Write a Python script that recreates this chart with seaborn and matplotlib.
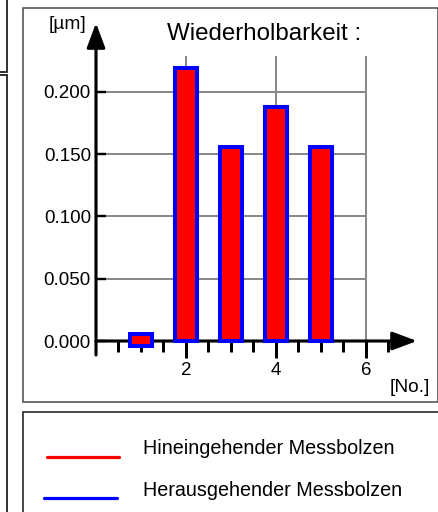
import matplotlib
matplotlib.use('Agg')
import matplotlib.pyplot as plt
import seaborn as sns
from matplotlib.patches import Rectangle
from matplotlib.lines import Line2D

# ---------------- data ----------------
measure_no = [1, 2, 3, 4, 5]
repeatability_um = [0.0015, 0.219, 0.156, 0.188, 0.156]
y_ticks = [0.000, 0.050, 0.100, 0.150, 0.200]
y_tick_labels = ['0.000', '0.050', '0.100', '0.150', '0.200']
x_major_ticks = [2, 4, 6]
x_tick_labels = ['2', '4', '6']
x_minor_ticks = [0.5, 1, 1.5, 2.5, 3, 3.5, 4.5, 5, 5.5, 6.5]
title = 'Wiederholbarkeit :'
y_unit = '[µm]'
x_unit = '[No.]'
legend_labels = ['Hineingehender Messbolzen', 'Herausgehender Messbolzen']
legend_colors = ['#ff0000', '#0000ff']

sns.set_style('white')
plt.rcParams['font.family'] = ['Liberation Sans', 'DejaVu Sans']

W, H = 439, 512
PT = 0.72  # points per pixel at dpi 100
fig = plt.figure(figsize=(W / 100, H / 100), dpi=100)
fig.patch.set_facecolor('white')


def fx(px):
    return px / W


def fy(py):
    return 1 - py / H


# pixel mapping of data space
X0, XS = 96.0, 45.0      # pixel of x=0, pixels per unit
Y0, YS = 341.0, 1245.0   # pixel of y=0, pixels per unit
AL, AR, AT, AB = 30, 436, 12, 398
ax = fig.add_axes([fx(AL), fy(AB), (AR - AL) / W, (AB - AT) / H])
ax.patch.set_visible(False)
ax.set_axisbelow('line')

# grid
ax.hlines(y_ticks[1:], 0, 6, colors='#8a8a8a', lw=2 * PT, zorder=1)
ax.vlines(x_major_ticks, 0, 0.229, colors='#8a8a8a', lw=2 * PT, zorder=1)

# bars
sns.barplot(x=measure_no, y=repeatability_um, native_scale=True, width=0.5,
            color='#ff0000', saturation=1, edgecolor='#0000ff',
            linewidth=2.9, errorbar=None, ax=ax, zorder=4)
min_h = 0.009
for p in ax.patches:
    if p.get_height() < min_h:
        c = p.get_y() + p.get_height() / 2
        p.set_y(c - min_h / 2)
        p.set_height(min_h)

# axes arrows
arrow = dict(arrowstyle='-|>,head_length=0.75,head_width=0.28',
             mutation_scale=20, lw=3.1 * PT, color='black',
             shrinkA=0, shrinkB=0)
ax.annotate('', xy=(0, (Y0 - 23) / YS), xytext=(0, (Y0 - 355) / YS),
            arrowprops=arrow, zorder=3)
ax.annotate('', xy=((417 - X0) / XS, 0), xytext=(0, 0),
            arrowprops=arrow, zorder=3)

for s in ax.spines.values():
    s.set_visible(False)
ax.spines['left'].set_position(('data', 0))
ax.spines['bottom'].set_position(('data', 0))

ax.set_xticks(x_major_ticks)
ax.set_xticklabels(x_tick_labels)
ax.set_xticks(x_minor_ticks, minor=True)
ax.set_yticks(y_ticks)
ax.set_yticklabels(y_tick_labels)
ax.tick_params(axis='x', which='major', bottom=True, direction='out',
               length=17 * PT, width=3 * PT, color='black', pad=4 * PT,
               labelsize=13.5, labelcolor='black')
ax.tick_params(axis='x', which='minor', bottom=True, direction='out',
               length=11 * PT, width=3 * PT, color='black')
ax.tick_params(axis='y', which='major', left=True, direction='in',
               length=10 * PT, width=2.4 * PT, color='black', pad=5 * PT,
               labelsize=13.5, labelcolor='black')
ax.set_xlabel('')
ax.set_ylabel('')
ax.set_xlim((AL - X0) / XS, (AR - X0) / XS)
ax.set_ylim((Y0 - AB) / YS, (Y0 - AT) / YS)

# texts
fig.text(fx(264), fy(40), title, ha='center', va='baseline', fontsize=17.4, color='black')
fig.text(fx(67.5), fy(29), y_unit, ha='center', va='baseline', fontsize=13.8, color='black')
fig.text(fx(409.5), fy(392), x_unit, ha='center', va='baseline', fontsize=13.8, color='black')

# panels
fig.add_artist(Rectangle((fx(23), fy(402)), (438 - 23) / W, (402 - 8) / H,
                         transform=fig.transFigure, fill=False,
                         edgecolor='#505050', lw=1.6 * PT))
fig.add_artist(Rectangle((fx(23), fy(560)), (480 - 23) / W, (560 - 412) / H,
                         transform=fig.transFigure, fill=False,
                         edgecolor='#202020', lw=1.6 * PT))
fig.add_artist(Rectangle((fx(-20), fy(72)), 27 / W, 92 / H,
                         transform=fig.transFigure, fill=False,
                         edgecolor='#202020', lw=1.8 * PT))
fig.add_artist(Rectangle((fx(-20), fy(560)), 27 / W, (560 - 75) / H,
                         transform=fig.transFigure, fill=False,
                         edgecolor='#202020', lw=1.8 * PT))

# legend
leg_lines = [(47, 119, 457), (44, 117, 498)]
leg_base = [454, 496]
for (x1, x2, ly), col, lab, tb in zip(leg_lines, legend_colors, legend_labels, leg_base):
    fig.add_artist(Line2D([fx(x1), fx(x2)], [fy(ly), fy(ly)], color=col,
                          lw=3.2 * PT, transform=fig.transFigure))
    fig.text(fx(143), fy(tb), lab, ha='left', va='baseline', fontsize=14.2, color='black')

fig.savefig('out.png', dpi=100, facecolor='white')
